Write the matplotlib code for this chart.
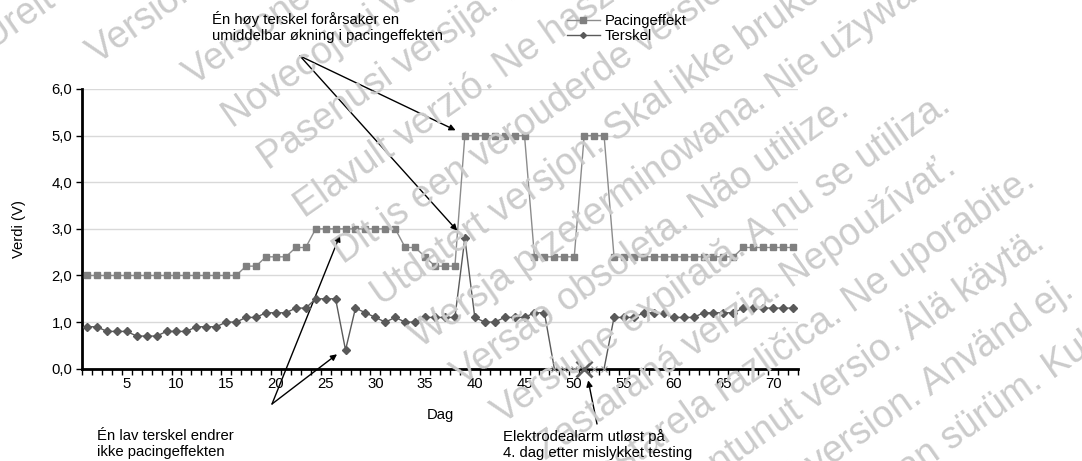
import matplotlib.pyplot as plt
from matplotlib.ticker import FixedLocator, FuncFormatter
from matplotlib.lines import Line2D

plt.rcParams['font.family'] = ['Liberation Sans', 'DejaVu Sans']

# data
dager = list(range(1, 73))
pacingeffekt = [2.0] * 16 + [2.2] * 2 + [2.4] * 3 + [2.6] * 2 + [3.0] * 9 + [2.6] * 2 + [2.4] + [2.2] * 3 \
    + [5.0] * 7 + [2.4] * 5 + [5.0] * 3 + [2.4] * 13 + [2.6] * 6
terskel = [0.9, 0.9, 0.8, 0.8, 0.8, 0.7, 0.7, 0.7, 0.8, 0.8, 0.8, 0.9, 0.9, 0.9, 1.0, 1.0,
           1.1, 1.1, 1.2, 1.2, 1.2, 1.3, 1.3, 1.5, 1.5, 1.5, 0.4, 1.3, 1.2, 1.1, 1.0, 1.1,
           1.0, 1.0, 1.1, 1.1, 1.1, 1.1, 2.8, 1.1, 1.0, 1.0, 1.1, 1.1, 1.1, 1.2, 1.2,
           0.0, 0.0, 0.0, 0.0, 0.0, 0.0,
           1.1, 1.1, 1.1, 1.2, 1.2, 1.2, 1.1, 1.1, 1.1, 1.2, 1.2, 1.2, 1.2, 1.3, 1.3, 1.3,
           1.3, 1.3, 1.3]
alarm_dag = 51

vannmerke = ["Úrelt útgáfa. Notið ekki.", "Version obsolète. Ne pas utiliser.",
             "Versione obsoleta. Non utilizzare.",
             "Novecojusi versija. Neizmantot.", "Pasenusi versija. Nenaudokite.",
             "Elavult verzió. Ne használja!", "Dit is een verouderde versie. Niet gebruiken.",
             "Utdatert versjon. Skal ikke brukes.", "Wersja przeterminowana. Nie używać.",
             "Versão obsoleta. Não utilize.", "Versiune expirată. A nu se utiliza.",
             "Zastaraná verzia. Nepoužívať.", "Zastarela različica. Ne uporabite.",
             "Vanhentunut versio. Älä käytä.", "Föråldrad version. Använd ej.",
             "Güncel olmayan sürüm. Kullanmayın."]

fig = plt.figure(figsize=(10.82, 4.61), dpi=100)

# watermark, behind everything
start = [(-8, 50), (97, 64), (194, 86), (232, 128), (268, 170), (304, 218), (343, 264),
         (381, 306), (420, 348), (462, 386), (502, 424), (545, 460), (588, 498),
         (632, 536), (676, 574), (720, 612)]
for (px, py), t in zip(start, vannmerke):
    fig.text(px / 1082, 1 - py / 461, t, fontsize=27, color='#cbcbcb', rotation=35,
             rotation_mode='anchor', ha='left', va='baseline', zorder=0)

ax = fig.add_axes([82 / 1082, 1 - 368.7 / 461, 716 / 1082, 279.7 / 461])
ax.patch.set_alpha(0)

ax.plot(dager, pacingeffekt, color='#8c8c8c', lw=1, marker='s', ms=5,
        mfc='#808080', mec='#808080', zorder=3)

ax.plot(dager, terskel, color='#5a5a5a', lw=1, zorder=4)
d_pos = [d for d, v in zip(dager, terskel) if v > 0]
v_pos = [v for v in terskel if v > 0]
d_null = [d for d, v in zip(dager, terskel) if v == 0]
v_null = [v for v in terskel if v == 0]
ax.plot(d_pos, v_pos, ls='none', marker='D', ms=4, mfc='#595959', mec='#595959', zorder=5)
ax.plot(d_null, v_null, ls='none', marker='x', ms=5, mew=0.8, color='#a0a0a0', zorder=5, clip_on=False)
ax.plot([alarm_dag], [0], ls='none', marker='x', ms=12, mew=2, color='#606060', zorder=6, clip_on=False)

ax.set_xlim(0.5, 72.5)
ax.set_ylim(0, 6)
ax.set_yticks([0, 1, 2, 3, 4, 5, 6])
ax.yaxis.set_major_formatter(FuncFormatter(lambda v, p: f"{v:.1f}".replace('.', ',')))
ax.set_xticks(list(range(5, 71, 5)))
ax.xaxis.set_minor_locator(FixedLocator([d + 0.5 for d in range(0, 73)]))
ax.tick_params(axis='x', which='major', length=0, labelsize=10.7, pad=6)
ax.tick_params(axis='x', which='minor', length=4, width=1, direction='out')
ax.tick_params(axis='y', length=4, width=1, labelsize=10.7, pad=3)
ax.grid(axis='y', color='#d9d9d9', lw=1, zorder=1)
ax.set_axisbelow(True)
for s in ['top', 'right']:
    ax.spines[s].set_visible(False)
for s in ['left', 'bottom']:
    ax.spines[s].set_linewidth(2)
ax.set_ylabel('Verdi (V)', fontsize=10.7, labelpad=18)
ax.set_xlabel('Dag', fontsize=10.7, labelpad=12)

handles = [Line2D([], [], color='#8c8c8c', lw=1, marker='s', ms=4, mfc='#808080', mec='#808080'),
           Line2D([], [], color='#5a5a5a', lw=1, marker='D', ms=3, mfc='#595959', mec='#595959')]
fig.legend(handles, ['Pacingeffekt', 'Terskel'], loc='upper left',
           bbox_to_anchor=(561 / 1082, 1 - 8 / 461), frameon=False, fontsize=10.7,
           handlelength=2.2, handletextpad=0.35, labelspacing=0.1, borderaxespad=0)

# annotations
tekst_kw = dict(fontsize=10.7, color='black', linespacing=1.2)
fig.text(212 / 1082, 1 - 11 / 461, "Én høy terskel forårsaker en\numiddelbar økning i pacingeffekten",
         va='top', ha='left', **tekst_kw)
fig.text(97 / 1082, 1 - 429 / 461, "Én lav terskel endrer\nikke pacingeffekten",
         va='top', ha='left', **tekst_kw)
fig.text(503 / 1082, 1 - 429 / 461, "Elektrodealarm utløst på\n4. dag etter mislykket testing",
         va='top', ha='left', **tekst_kw)

pil = dict(arrowstyle='-|>', color='black', lw=1, mutation_scale=9, shrinkA=0, shrinkB=5)
for dag, verdi in [(39, pacingeffekt[38]), (39, terskel[38])]:
    ax.annotate('', xy=(dag - 0.3, verdi + 0.05), xycoords='data',
                xytext=(300 / 1082, 1 - 56 / 461), textcoords='figure fraction', arrowprops=pil)
for dag, verdi in [(27, pacingeffekt[26]), (27, terskel[26])]:
    ax.annotate('', xy=(dag - 0.3, verdi), xycoords='data',
                xytext=(272 / 1082, 1 - 404 / 461), textcoords='figure fraction', arrowprops=pil)
ax.annotate('', xy=(alarm_dag + 0.4, -0.25), xycoords='data',
            xytext=(597 / 1082, 1 - 424 / 461), textcoords='figure fraction',
            arrowprops=dict(pil, shrinkB=0), annotation_clip=False)

fig.savefig('out.png', dpi=100)
